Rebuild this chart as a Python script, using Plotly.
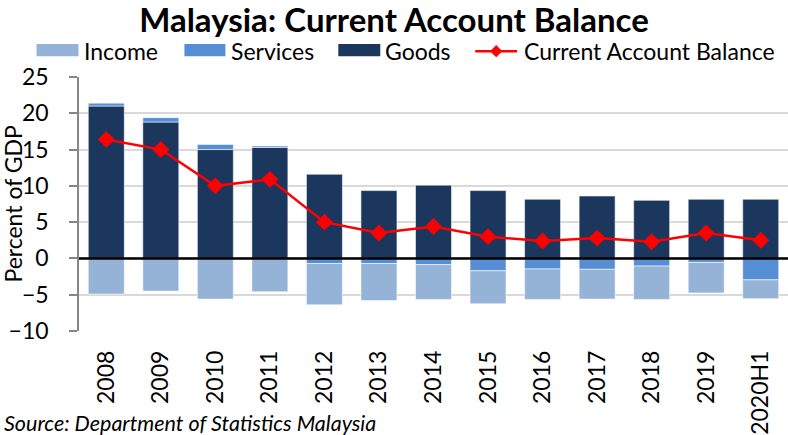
import plotly.graph_objects as go

categories = ["2008", "2009", "2010", "2011", "2012", "2013", "2014",
              "2015", "2016", "2017", "2018", "2019", "2020H1"]
goods = [21.0, 18.8, 15.0, 15.3, 11.6, 9.35, 10.1, 9.35, 8.15, 8.6, 8.0, 8.15, 8.15]
services = [0.4, 0.6, 0.7, 0.2, -0.7, -0.7, -0.85, -1.7, -1.45, -1.5, -1.05, -0.55, -2.95]
income = [-4.9, -4.5, -5.6, -4.6, -5.7, -5.1, -4.8, -4.55, -4.2, -4.1, -4.6, -4.2, -2.6]
cab = [16.4, 15.0, 10.0, 10.9, 5.0, 3.5, 4.4, 3.0, 2.4, 2.8, 2.3, 3.5, 2.5]
y_ticks = [-10, -5, 0, 5, 10, 15, 20, 25]

C_INCOME = "#95B3D7"
C_SERV = "#558ED5"
C_GOODS = "#1B375E"
C_LINE = "#FF0000"
FONT = "Lato"

W, H = 788, 435
ML, MR, MT, MB = 78.5, 0, 77.3, 104.3
PW = W - ML - MR
PH = H - MT - MB


def px(x):
    return (x - ML) / PW


def py(y):
    return (H - MB - y) / PH


edge = dict(color="rgba(255,255,255,0.55)", width=1)
fig = go.Figure()
fig.add_trace(go.Bar(x=categories, y=goods, name="Goods", marker=dict(color=C_GOODS, line=edge)))
fig.add_trace(go.Bar(x=categories, y=services, name="Services", marker=dict(color=C_SERV, line=edge)))
fig.add_trace(go.Bar(x=categories, y=income, name="Income", marker=dict(color=C_INCOME, line=edge)))
fig.add_trace(go.Scatter(x=categories, y=cab, name="Current Account Balance", mode="lines+markers",
                         line=dict(color=C_LINE, width=2.5),
                         marker=dict(symbol="diamond", size=13, color=C_LINE)))

shapes = []
annotations = []
# zero line
shapes.append(dict(type="line", xref="paper", yref="y", x0=0, x1=1, y0=0, y1=0,
                   line=dict(color="black", width=2.5), layer="above"))

# manual legend
leg_y0, leg_y1 = 44.5, 56.5
for (x0, x1, col, tx, label) in [(36, 78, C_INCOME, 82, "Income"),
                                 (184, 225, C_SERV, 229, "Services"),
                                 (338, 380, C_GOODS, 383, "Goods")]:
    shapes.append(dict(type="rect", xref="paper", yref="paper", x0=px(x0), x1=px(x1),
                       y0=py(leg_y1), y1=py(leg_y0), fillcolor=col, line=dict(width=0)))
    annotations.append(dict(text=label, xref="paper", yref="paper", x=px(tx), y=py(51),
                            xanchor="left", yanchor="middle", showarrow=False,
                            font=dict(family=FONT, size=23, color="black")))
shapes.append(dict(type="line", xref="paper", yref="paper", x0=px(475), x1=px(517),
                   y0=py(51.5), y1=py(51.5), line=dict(color=C_LINE, width=2.5)))
cx, cy, r = 496, 51.5, 6
shapes.append(dict(type="path", xref="paper", yref="paper",
                   path="M {a},{b} L {c},{d} L {a},{e} L {f},{d} Z".format(
                       a=px(cx), b=py(cy - r), c=px(cx + r), d=py(cy), e=py(cy + r), f=px(cx - r)),
                   fillcolor=C_LINE, line=dict(width=0)))
annotations.append(dict(text="Current Account Balance", xref="paper", yref="paper", x=px(522), y=py(51),
                        xanchor="left", yanchor="middle", showarrow=False,
                        font=dict(family=FONT, size=23, color="black")))

# y-axis title
annotations.append(dict(text="Percent of GDP", xref="paper", yref="paper", x=px(12), y=py(204),
                        xanchor="center", yanchor="middle", textangle=-90, showarrow=False,
                        font=dict(family=FONT, size=23, color="black")))

annotations.append(dict(text="<i>Source: Department of Statistics Malaysia</i>", xref="paper", yref="paper",
                        x=px(1), y=py(422), xanchor="left", yanchor="middle", showarrow=False,
                        font=dict(family=FONT, size=21.5, color="black")))

fig.update_layout(
    width=W, height=H,
    margin=dict(l=ML, r=MR, t=MT, b=MB, pad=0, autoexpand=False),
    paper_bgcolor="white", plot_bgcolor="white",
    barmode="relative", bargap=0.34,
    showlegend=False,
    title=dict(text="<b>Malaysia: Current Account Balance</b>", x=0.5, xanchor="center",
               y=1 - 20.5 / H, yanchor="middle",
               font=dict(family=FONT, size=33, color="black")),
    font=dict(family=FONT, size=22, color="black"),
    shapes=shapes, annotations=annotations,
)
fig.update_xaxes(type="category", tickangle=-90, showgrid=False, showline=False, ticks="",
                 tickfont=dict(family=FONT, size=23, color="black"), ticklabelstandoff=14,
                 range=[-0.5, len(categories) - 0.5], automargin=False)
fig.update_yaxes(range=[-10, 25], tickvals=y_ticks, showgrid=True, gridcolor="#D9D9D9", gridwidth=1.5,
                 zeroline=False, showline=True, linecolor="#868686", linewidth=1.5,
                 ticks="outside", ticklen=8, tickcolor="#868686", tickwidth=1.5,
                 tickfont=dict(family=FONT, size=23, color="black"), ticklabelstandoff=16,
                 automargin=False)

fig.write_html("out.html", config={"displayModeBar": False},
               post_script="document.body.style.margin='0';document.body.style.overflow='hidden';")
